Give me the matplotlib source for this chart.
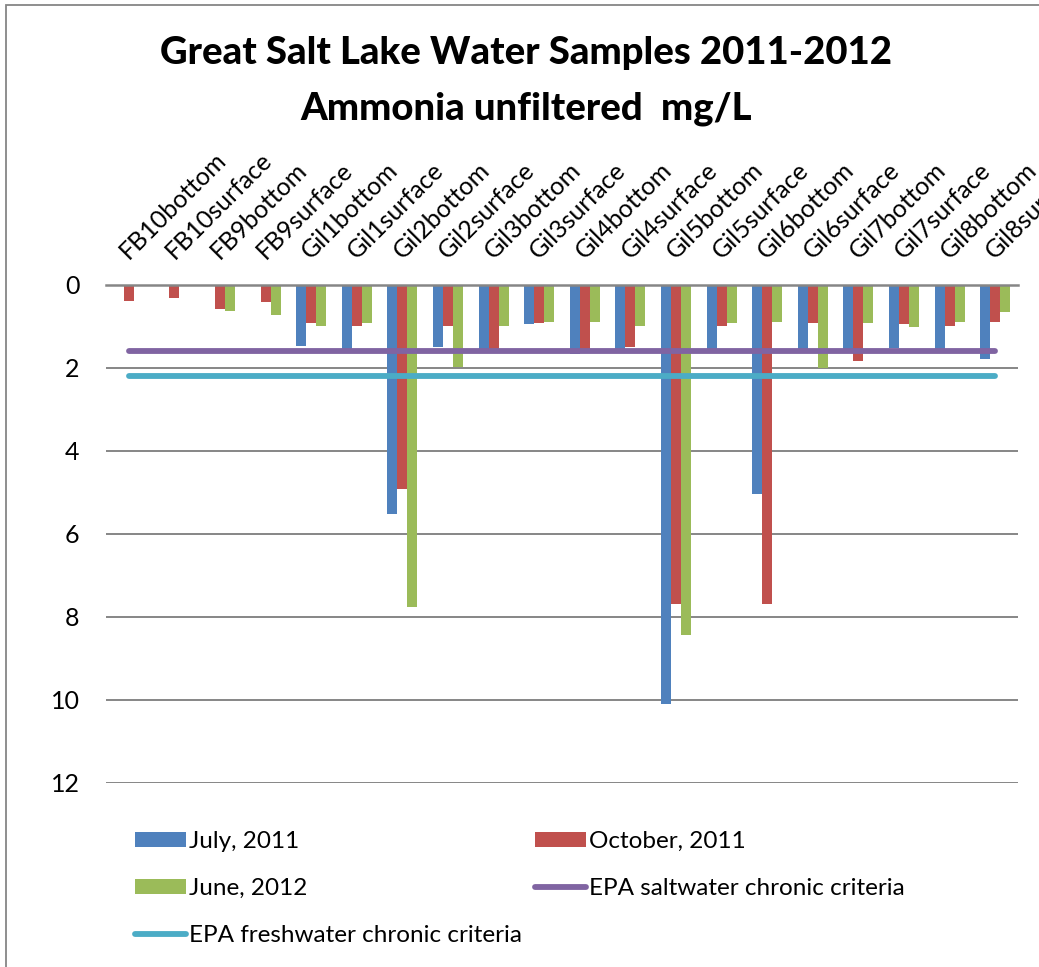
import numpy as np
import matplotlib
matplotlib.use("Agg")
import matplotlib.pyplot as plt
from matplotlib.patches import Patch, Rectangle
from matplotlib.lines import Line2D

plt.rcParams["font.family"] = ["Lato", "DejaVu Sans"]

# Sampling sites
sites = ["FB10bottom", "FB10surface", "FB9bottom", "FB9surface",
         "Gil1bottom", "Gil1surface", "Gil2bottom", "Gil2surface",
         "Gil3bottom", "Gil3surface", "Gil4bottom", "Gil4surface",
         "Gil5bottom", "Gil5surface", "Gil6bottom", "Gil6surface",
         "Gil7bottom", "Gil7surface", "Gil8bottom", "Gil8surface"]

# Ammonia, unfiltered (mg/L); None = no sample
july_2011 = [None, None, None, None,
             1.48, 1.56, 5.53, 1.49,
             1.56, 0.95, 1.68, 1.56,
             10.10, 1.56, 5.04, 1.56,
             1.56, 1.53, 1.56, 1.79]
october_2011 = [0.39, 0.32, 0.59, 0.41,
                0.93, 1.00, 4.92, 1.00,
                1.56, 0.93, 1.56, 1.51,
                7.69, 0.99, 7.69, 0.92,
                1.83, 0.95, 1.00, 0.89]
june_2012 = [None, None, 0.63, 0.72,
             1.00, 0.92, 7.77, 1.98,
             0.99, 0.89, 0.89, 0.99,
             8.43, 0.92, 0.90, 2.01,
             0.92, 1.03, 0.91, 0.66]

# EPA chronic criteria (mg/L)
epa_saltwater = [1.6, 1.6, 1.6, 1.6, 1.6, 1.6, 1.6, 1.6, 1.6, 1.6,
                 1.6, 1.6, 1.6, 1.6, 1.6, 1.6, 1.6, 1.6, 1.6, 1.6]
epa_freshwater = [2.2, 2.2, 2.2, 2.2, 2.2, 2.2, 2.2, 2.2, 2.2, 2.2,
                  2.2, 2.2, 2.2, 2.2, 2.2, 2.2, 2.2, 2.2, 2.2, 2.2]

y_ticks = [0, 2, 4, 6, 8, 10, 12]

series_labels = ["July, 2011", "October, 2011", "June, 2012",
                 "EPA saltwater chronic criteria", "EPA freshwater chronic criteria"]

BLUE = "#4F81BD"
RED = "#C0504D"
GREEN = "#9BBB59"
PURPLE = "#8064A2"
CYAN = "#4BACC6"
GRID = "#868686"


def as_float(values):
    return np.array([np.nan if v is None else v for v in values], dtype=float)


W, H = 1039, 967
fig = plt.figure(figsize=(W / 100, H / 100), dpi=100)

# chart area frame
fig.patches.append(Rectangle((5.5 / W, -0.1), 1.2, 1.1 - 4.5 / H,
                             transform=fig.transFigure, fill=False,
                             edgecolor=GRID, linewidth=1.3))

ax = fig.add_axes([106 / W, 1 - 782.7 / H, (1018 - 106) / W, (782.7 - 284.7) / H])

x = np.arange(len(sites))
bw = 0.219
ax.bar(x - bw, as_float(july_2011), width=bw, color=BLUE, zorder=2)
ax.bar(x, as_float(october_2011), width=bw, color=RED, zorder=2)
ax.bar(x + bw, as_float(june_2012), width=bw, color=GREEN, zorder=2)

ax.plot(x, epa_saltwater, color=PURPLE, linewidth=4.2,
        solid_capstyle="round", zorder=3)
ax.plot(x, epa_freshwater, color=CYAN, linewidth=4.2,
        solid_capstyle="round", zorder=3)

ax.set_xlim(-0.5, len(sites) - 0.5)
ax.set_ylim(12, 0)

# value axis
ax.set_yticks(y_ticks)
ax.set_yticklabels([str(t) for t in y_ticks])
ax.yaxis.grid(True, color=GRID, linewidth=1.4, zorder=0)
ax.tick_params(axis="y", length=0, pad=19, labelsize=18, labelcolor="black")

# category axis along the top
ax.xaxis.tick_top()
ax.set_xticks(x)
ax.set_xticklabels(sites)
ax.tick_params(axis="x", length=0, pad=18, labelsize=18)
for lbl in ax.get_xticklabels():
    lbl.set_rotation(45)
    lbl.set_rotation_mode("anchor")
    lbl.set_ha("left")
    lbl.set_va("baseline")

for side in ("left", "right", "bottom"):
    ax.spines[side].set_visible(False)
ax.spines["top"].set_color(GRID)
ax.spines["top"].set_linewidth(1.8)
ax.set_axisbelow(True)

# title
fig.text(526.5 / W, 1 - 64 / H, "Great Salt Lake Water Samples 2011-2012",
         ha="center", va="baseline", fontsize=27.5, fontweight="black")
fig.text(526.5 / W, 1 - 119 / H, "Ammonia unfiltered  mg/L",
         ha="center", va="baseline", fontsize=27.5, fontweight="black")

# legend, laid out in two columns
h_july = Patch(facecolor=BLUE)
h_oct = Patch(facecolor=RED)
h_june = Patch(facecolor=GREEN)
h_salt = Line2D([], [], color=PURPLE, linewidth=4.2, solid_capstyle="round")
h_fresh = Line2D([], [], color=CYAN, linewidth=4.2, solid_capstyle="round")

leg_kw = dict(frameon=False, fontsize=17.5, handlelength=2.1, handleheight=0.57,
              handletextpad=0.12, labelspacing=1.07, borderpad=0,
              borderaxespad=0, loc="upper left")
leg1 = fig.legend([h_july, h_june, h_fresh],
                  [series_labels[0], series_labels[2], series_labels[4]],
                  bbox_to_anchor=(135 / W, 1 - 831 / H), **leg_kw)
leg2 = fig.legend([h_oct, h_salt],
                  [series_labels[1], series_labels[3]],
                  bbox_to_anchor=(535 / W, 1 - 831 / H), **leg_kw)

fig.savefig("out.png", dpi=100)
